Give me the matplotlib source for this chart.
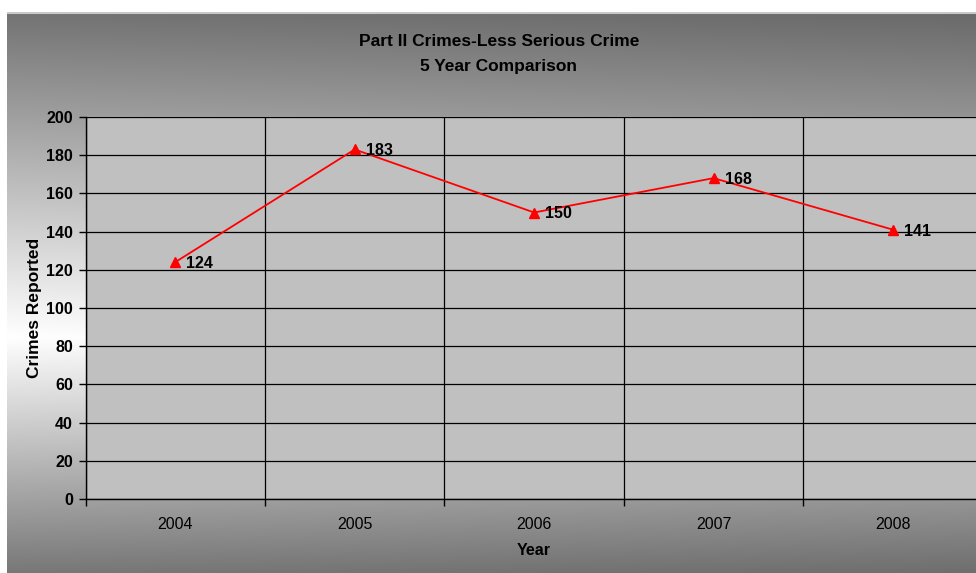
import numpy as np
import matplotlib
matplotlib.use("Agg")
import matplotlib.pyplot as plt

plt.rcParams['font.family'] = ['Liberation Sans', 'DejaVu Sans']

years = ["2004", "2005", "2006", "2007", "2008"]
crimes = [124, 183, 150, 168, 141]
y_ticks = [0, 20, 40, 60, 80, 100, 120, 140, 160, 180, 200]

W, H = 976, 573
fig = plt.figure(figsize=(W / 100, H / 100), dpi=100)
fig.patch.set_facecolor("white")

# chart area background: dark at top and bottom, light band in the middle
bg = fig.add_axes([7 / W, 0, 1 - 7 / W, (H - 12) / H], zorder=0)
rows = np.linspace(0, 1, 400)
center = 0.58
lo_top, lo_bot = 0.45, 0.47
shade = np.where(rows < center,
                 lo_top + (1 - lo_top) * (rows / center),
                 1 - (1 - lo_bot) * ((rows - center) / (1 - center)))
xs = np.linspace(0, 1, 200)
horiz = 1 - 0.08 * xs
img = np.clip(shade[:, None] * horiz[None, :], 0, 1)
bg.imshow(np.dstack([img, img, img]), aspect="auto", extent=[0, 1, 1, 0],
          interpolation="bilinear")
bg.set_xlim(0, 1)
bg.set_ylim(1, 0)
bg.axis("off")
bg.axhline(0.001, color="#c8c8c8", lw=1.5)

# plot area
left = 85.5 / W
right = 982.75 / W
bottom = (H - 499) / H
top = (H - 117) / H
ax = fig.add_axes([left, bottom, right - left, top - bottom], zorder=1)
ax.set_facecolor("#c0c0c0")

x = np.arange(len(years))
ax.plot(x, crimes, color="red", lw=1.3, marker="^", markersize=7,
        markerfacecolor="red", markeredgecolor="red", zorder=3)
for xi, v in zip(x, crimes):
    ax.annotate(str(v), (xi, v), xytext=(8, -1), textcoords="offset points",
                ha="left", va="center", fontsize=11.5, fontweight="bold",
                color="black", zorder=4)

ax.set_xlim(-0.5, len(years) - 0.5)
ax.set_ylim(0, 200)
ax.set_yticks(y_ticks)
ax.set_yticklabels([str(t) for t in y_ticks], fontsize=11.5, fontweight="bold")
ax.set_xticks(x)
ax.set_xticklabels(years, fontsize=11.5)
ax.set_xticks(np.arange(-0.5, len(years), 1.0), minor=True)
ax.tick_params(axis="x", which="major", length=0, pad=13)
ax.tick_params(axis="x", which="minor", length=5, width=1, direction="out")
ax.tick_params(axis="y", which="major", length=5, width=1, direction="out", pad=4)

ax.grid(axis="y", which="major", color="black", lw=0.9)
ax.grid(axis="x", which="minor", color="black", lw=0.9)
ax.set_axisbelow(True)

for s in ["top", "right"]:
    ax.spines[s].set_visible(False)
ax.spines["left"].set_color("black")
ax.spines["bottom"].set_color("black")
ax.spines["left"].set_linewidth(1)
ax.spines["bottom"].set_linewidth(1)

ax.set_ylabel("Crimes Reported", fontsize=12.5, fontweight="bold", labelpad=3)
ax.set_xlabel("Year", fontsize=11.5, fontweight="bold", labelpad=8)

fig.text(499 / W, 1 - 42 / H, "Part II Crimes-Less Serious Crime",
         ha="center", va="center", fontsize=12.5, fontweight="bold")
fig.text(499 / W, 1 - 67 / H, "5 Year Comparison",
         ha="center", va="center", fontsize=12.5, fontweight="bold")

fig.savefig("out.png", dpi=100)
